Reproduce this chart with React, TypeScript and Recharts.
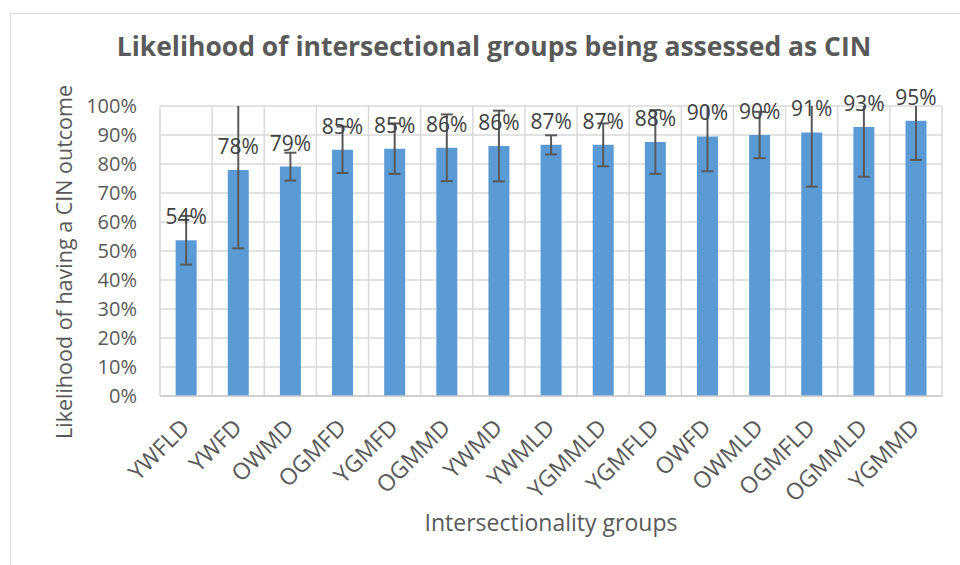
import React from 'react';
import { BarChart, Bar, XAxis, YAxis, CartesianGrid, ErrorBar, LabelList, Label } from 'recharts';

const categories = ['YWFLD', 'YWFD', 'OWMD', 'OGMFD', 'YGMFD', 'OGMMD', 'YWMD', 'YWMLD', 'YGMMLD', 'YGMFLD', 'OWFD', 'OWMLD', 'OGMFLD', 'OGMMLD', 'YGMMD'];
const likelihood = [53.7, 77.9, 79.1, 84.9, 85.3, 85.6, 86.2, 86.6, 86.6, 87.6, 89.5, 90.0, 90.9, 92.8, 94.9];
const errorMargin = [8.4, 27.0, 4.8, 8.0, 8.7, 11.5, 12.2, 3.3, 7.4, 11.0, 12.0, 8.0, 18.7, 17.2, 13.5];
const yTicks = [0, 10, 20, 30, 40, 50, 60, 70, 80, 90, 100];

const chartTitle = 'Likelihood of intersectional groups being assessed as CIN';
const xTitle = 'Intersectionality groups';
const yTitle = 'Likelihood of having a CIN outcome';

const data = categories.map((group, i) => ({ group, value: likelihood[i], err: errorMargin[i] }));

const FONT = '"Open Sans", sans-serif';
const TEXT = '#595959';
const CLIP_ID = 'plot-top-clip';

const XTick = (props: any) => {
  const { x, y, payload } = props;
  return (
    <g transform={`translate(${x + 5},${y + 33})`}>
      <text textAnchor="end" transform="rotate(-45)" fill={TEXT} fontSize={23} fontFamily={FONT}>
        {payload.value}
      </text>
    </g>
  );
};

export default function App() {
  return (
    <div style={{ position: 'absolute', left: 0, top: 0, width: 960, height: 565, background: '#fff', overflow: 'hidden', fontFamily: FONT }}>
      <style>{`.recharts-errorBars, .recharts-errorBar { clip-path: url(#${CLIP_ID}); }`}</style>
      <div style={{ position: 'absolute', left: 10, top: 13, width: 980, height: 600, border: '1px solid #d9d9d9', boxSizing: 'border-box' }} />
      <div style={{ position: 'absolute', left: 0, top: 29, width: 988, textAlign: 'center', fontSize: 26.5, lineHeight: '34px', fontWeight: 700, color: TEXT, fontFamily: FONT }}>
        {chartTitle}
      </div>
      <BarChart width={960} height={565} data={data} margin={{ top: 106, right: 18, bottom: 29, left: 0 }} barCategoryGap="30%">
        <CartesianGrid
          stroke="#d9d9d9"
          strokeWidth={1.5}
          verticalCoordinatesGenerator={({ offset }: any) =>
            Array.from({ length: categories.length + 1 }, (_, i) => offset.left + (i * offset.width) / categories.length)
          }
        />
        <XAxis
          dataKey="group"
          interval={0}
          height={140}
          tickLine={false}
          tickSize={0}
          tickMargin={0}
          axisLine={{ stroke: '#c8c8c8', strokeWidth: 1.5 }}
          tick={<XTick />}
        >
          <Label
            content={({ viewBox }: any) => (
              <text x={viewBox.x + viewBox.width / 2} y={viewBox.y + 135} textAnchor="middle" fill={TEXT} fontSize={23} fontFamily={FONT}>
                {xTitle}
              </text>
            )}
          />
        </XAxis>
        <YAxis
          width={160}
          domain={[0, 100]}
          ticks={yTicks}
          allowDataOverflow
          axisLine={false}
          tickLine={false}
          tickSize={0}
          tickMargin={23}
          tickFormatter={(v: number) => `${v}%`}
          tick={{ fill: TEXT, fontSize: 20, fontFamily: FONT }}
        >
          <Label
            content={({ viewBox }: any) => {
              const cx = viewBox.x + 63;
              const cy = viewBox.y + viewBox.height / 2 + 11;
              return (
                <g>
                  <defs>
                    <clipPath id={CLIP_ID}>
                      <rect x={0} y={viewBox.y} width={100000} height={100000} />
                    </clipPath>
                  </defs>
                  <text x={cx} y={cy} transform={`rotate(-90, ${cx}, ${cy})`} textAnchor="middle" dominantBaseline="central" fill={TEXT} fontSize={21.5} fontFamily={FONT}>
                    {yTitle}
                  </text>
                </g>
              );
            }}
          />
        </YAxis>
        <Bar dataKey="value" fill="#5b9bd5" isAnimationActive={false}>
          <ErrorBar dataKey="err" width={6} strokeWidth={2} stroke="#595959" isAnimationActive={false} />
          <LabelList
            dataKey="value"
            position="top"
            offset={16}
            formatter={(v: any) => `${Math.round(Number(v))}%`}
            fill="#404040"
            fontSize={21}
            fontFamily={FONT}
          />
        </Bar>
      </BarChart>
    </div>
  );
}
